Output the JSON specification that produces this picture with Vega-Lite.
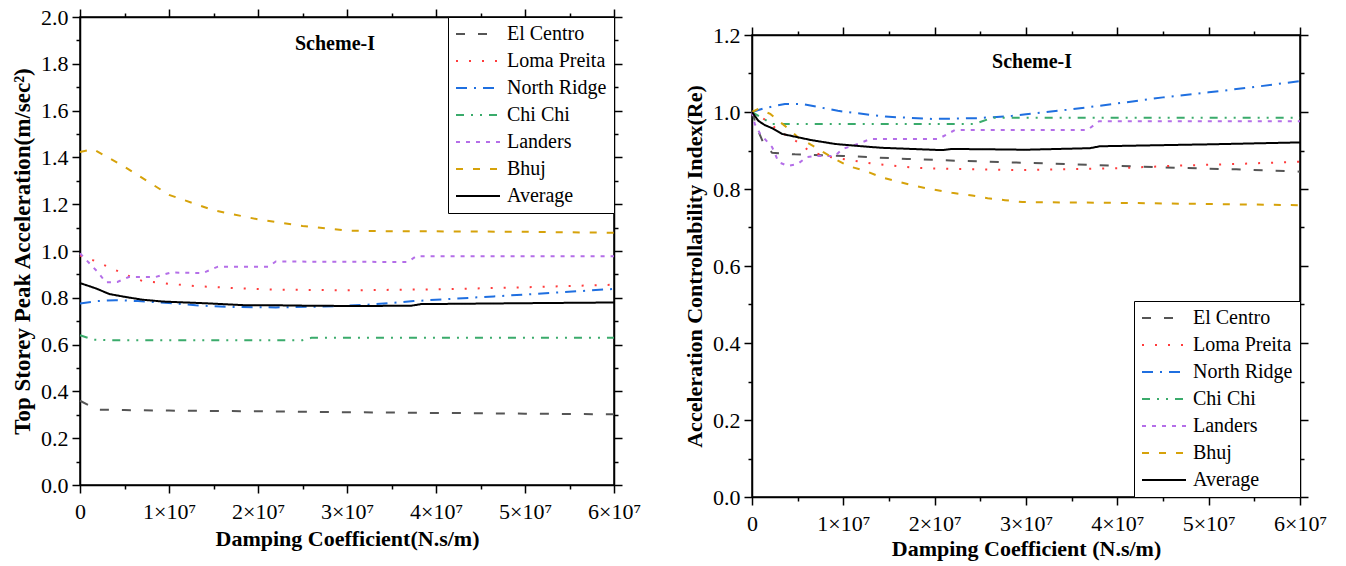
{
  "$schema": "https://vega.github.io/schema/vega-lite/v6.json",
  "background": "white",
  "padding": {"left": 10, "top": 5, "right": 5, "bottom": 5},
  "config": {
    "font": "Liberation Serif",
    "view": {"stroke": "black", "strokeWidth": 1.5},
    "axis": {"grid": false, "domainColor": "black", "domainWidth": 1.5, "tickColor": "black", "tickWidth": 1.5, "labelFont": "Liberation Serif", "labelFontSize": 22, "labelColor": "black", "titleFont": "Liberation Serif", "titleFontWeight": "bold", "titleColor": "black", "labelFlush": false, "labelOverlap": false},
    "legend": {"title": null, "strokeColor": "black", "fillColor": "white", "padding": 7, "symbolType": "stroke", "symbolSize": 1936, "symbolStrokeWidth": 2, "labelFontSize": 20, "labelFont": "Liberation Serif", "labelColor": "black", "clipHeight": 20, "rowPadding": 7, "labelOffset": 6, "offset": 0}
  },
  "datasets": {
    "accel": [
      {"s": "El Centro", "c": 0, "v": 0.36}, {"s": "El Centro", "c": 1000000, "v": 0.34}, {"s": "El Centro", "c": 2000000, "v": 0.322}, {"s": "El Centro", "c": 5000000, "v": 0.32}, {"s": "El Centro", "c": 10000000, "v": 0.318}, {"s": "El Centro", "c": 20000000, "v": 0.315}, {"s": "El Centro", "c": 30000000, "v": 0.311}, {"s": "El Centro", "c": 40000000, "v": 0.308}, {"s": "El Centro", "c": 50000000, "v": 0.305}, {"s": "El Centro", "c": 60000000, "v": 0.302},
      {"s": "Loma Preita", "c": 0, "v": 0.98}, {"s": "Loma Preita", "c": 1500000, "v": 0.96}, {"s": "Loma Preita", "c": 3000000, "v": 0.935}, {"s": "Loma Preita", "c": 4200000, "v": 0.915}, {"s": "Loma Preita", "c": 5500000, "v": 0.893}, {"s": "Loma Preita", "c": 7000000, "v": 0.872}, {"s": "Loma Preita", "c": 8500000, "v": 0.866}, {"s": "Loma Preita", "c": 10000000, "v": 0.86}, {"s": "Loma Preita", "c": 13000000, "v": 0.85}, {"s": "Loma Preita", "c": 17000000, "v": 0.842}, {"s": "Loma Preita", "c": 22000000, "v": 0.835}, {"s": "Loma Preita", "c": 30000000, "v": 0.832}, {"s": "Loma Preita", "c": 40000000, "v": 0.836}, {"s": "Loma Preita", "c": 50000000, "v": 0.845}, {"s": "Loma Preita", "c": 60000000, "v": 0.856},
      {"s": "North Ridge", "c": 0, "v": 0.776}, {"s": "North Ridge", "c": 2000000, "v": 0.786}, {"s": "North Ridge", "c": 4000000, "v": 0.79}, {"s": "North Ridge", "c": 6500000, "v": 0.786}, {"s": "North Ridge", "c": 10000000, "v": 0.778}, {"s": "North Ridge", "c": 13000000, "v": 0.768}, {"s": "North Ridge", "c": 16500000, "v": 0.761}, {"s": "North Ridge", "c": 22000000, "v": 0.759}, {"s": "North Ridge", "c": 29000000, "v": 0.764}, {"s": "North Ridge", "c": 33000000, "v": 0.772}, {"s": "North Ridge", "c": 37500000, "v": 0.786}, {"s": "North Ridge", "c": 42000000, "v": 0.796}, {"s": "North Ridge", "c": 46500000, "v": 0.806}, {"s": "North Ridge", "c": 53000000, "v": 0.821}, {"s": "North Ridge", "c": 60000000, "v": 0.838},
      {"s": "Chi Chi", "c": 0, "v": 0.64}, {"s": "Chi Chi", "c": 1500000, "v": 0.621}, {"s": "Chi Chi", "c": 3000000, "v": 0.619}, {"s": "Chi Chi", "c": 25000000, "v": 0.619}, {"s": "Chi Chi", "c": 26000000, "v": 0.629}, {"s": "Chi Chi", "c": 60000000, "v": 0.629},
      {"s": "Landers", "c": 0, "v": 0.99}, {"s": "Landers", "c": 1000000, "v": 0.95}, {"s": "Landers", "c": 2000000, "v": 0.91}, {"s": "Landers", "c": 2900000, "v": 0.866}, {"s": "Landers", "c": 4200000, "v": 0.868}, {"s": "Landers", "c": 5500000, "v": 0.889}, {"s": "Landers", "c": 8500000, "v": 0.889}, {"s": "Landers", "c": 10200000, "v": 0.908}, {"s": "Landers", "c": 13800000, "v": 0.906}, {"s": "Landers", "c": 15500000, "v": 0.933}, {"s": "Landers", "c": 21200000, "v": 0.933}, {"s": "Landers", "c": 22000000, "v": 0.955}, {"s": "Landers", "c": 36800000, "v": 0.953}, {"s": "Landers", "c": 37800000, "v": 0.978}, {"s": "Landers", "c": 60000000, "v": 0.978},
      {"s": "Bhuj", "c": 0, "v": 1.423}, {"s": "Bhuj", "c": 1500000, "v": 1.435}, {"s": "Bhuj", "c": 5000000, "v": 1.36}, {"s": "Bhuj", "c": 10000000, "v": 1.24}, {"s": "Bhuj", "c": 15000000, "v": 1.174}, {"s": "Bhuj", "c": 20000000, "v": 1.135}, {"s": "Bhuj", "c": 25000000, "v": 1.107}, {"s": "Bhuj", "c": 30000000, "v": 1.087}, {"s": "Bhuj", "c": 35000000, "v": 1.084}, {"s": "Bhuj", "c": 40000000, "v": 1.084}, {"s": "Bhuj", "c": 50000000, "v": 1.082}, {"s": "Bhuj", "c": 60000000, "v": 1.078},
      {"s": "Average", "c": 0, "v": 0.863}, {"s": "Average", "c": 1800000, "v": 0.84}, {"s": "Average", "c": 3300000, "v": 0.816}, {"s": "Average", "c": 5200000, "v": 0.803}, {"s": "Average", "c": 7000000, "v": 0.792}, {"s": "Average", "c": 9300000, "v": 0.784}, {"s": "Average", "c": 14500000, "v": 0.776}, {"s": "Average", "c": 18700000, "v": 0.768}, {"s": "Average", "c": 22000000, "v": 0.768}, {"s": "Average", "c": 26000000, "v": 0.766}, {"s": "Average", "c": 31000000, "v": 0.765}, {"s": "Average", "c": 37200000, "v": 0.766}, {"s": "Average", "c": 38300000, "v": 0.773}, {"s": "Average", "c": 50000000, "v": 0.777}, {"s": "Average", "c": 60000000, "v": 0.78}
    ],
    "ci": [
      {"s": "El Centro", "c": 0, "v": 1.0}, {"s": "El Centro", "c": 700000, "v": 0.95}, {"s": "El Centro", "c": 1200000, "v": 0.922}, {"s": "El Centro", "c": 2200000, "v": 0.894}, {"s": "El Centro", "c": 4700000, "v": 0.89}, {"s": "El Centro", "c": 10000000, "v": 0.886}, {"s": "El Centro", "c": 17000000, "v": 0.878}, {"s": "El Centro", "c": 23000000, "v": 0.873}, {"s": "El Centro", "c": 30000000, "v": 0.868}, {"s": "El Centro", "c": 39000000, "v": 0.861}, {"s": "El Centro", "c": 46500000, "v": 0.855}, {"s": "El Centro", "c": 53000000, "v": 0.851}, {"s": "El Centro", "c": 60000000, "v": 0.845},
      {"s": "Loma Preita", "c": 0, "v": 1.0}, {"s": "Loma Preita", "c": 1200000, "v": 0.984}, {"s": "Loma Preita", "c": 2700000, "v": 0.956}, {"s": "Loma Preita", "c": 4000000, "v": 0.935}, {"s": "Loma Preita", "c": 5000000, "v": 0.922}, {"s": "Loma Preita", "c": 6200000, "v": 0.9}, {"s": "Loma Preita", "c": 8000000, "v": 0.885}, {"s": "Loma Preita", "c": 10500000, "v": 0.876}, {"s": "Loma Preita", "c": 13500000, "v": 0.865}, {"s": "Loma Preita", "c": 17800000, "v": 0.855}, {"s": "Loma Preita", "c": 22000000, "v": 0.852}, {"s": "Loma Preita", "c": 29700000, "v": 0.849}, {"s": "Loma Preita", "c": 40000000, "v": 0.854}, {"s": "Loma Preita", "c": 47000000, "v": 0.861}, {"s": "Loma Preita", "c": 53000000, "v": 0.865}, {"s": "Loma Preita", "c": 60000000, "v": 0.871},
      {"s": "North Ridge", "c": 0, "v": 1.0}, {"s": "North Ridge", "c": 1400000, "v": 1.01}, {"s": "North Ridge", "c": 3600000, "v": 1.021}, {"s": "North Ridge", "c": 5500000, "v": 1.021}, {"s": "North Ridge", "c": 9400000, "v": 1.003}, {"s": "North Ridge", "c": 14600000, "v": 0.988}, {"s": "North Ridge", "c": 19700000, "v": 0.982}, {"s": "North Ridge", "c": 24700000, "v": 0.984}, {"s": "North Ridge", "c": 28500000, "v": 0.99}, {"s": "North Ridge", "c": 30000000, "v": 0.994}, {"s": "North Ridge", "c": 35000000, "v": 1.007}, {"s": "North Ridge", "c": 40600000, "v": 1.024}, {"s": "North Ridge", "c": 45000000, "v": 1.038}, {"s": "North Ridge", "c": 50000000, "v": 1.051}, {"s": "North Ridge", "c": 55000000, "v": 1.065}, {"s": "North Ridge", "c": 60000000, "v": 1.08},
      {"s": "Chi Chi", "c": 0, "v": 1.0}, {"s": "Chi Chi", "c": 2200000, "v": 0.969}, {"s": "Chi Chi", "c": 24400000, "v": 0.969}, {"s": "Chi Chi", "c": 26300000, "v": 0.985}, {"s": "Chi Chi", "c": 60000000, "v": 0.985},
      {"s": "Landers", "c": 0, "v": 1.0}, {"s": "Landers", "c": 300000, "v": 0.969}, {"s": "Landers", "c": 900000, "v": 0.943}, {"s": "Landers", "c": 2200000, "v": 0.909}, {"s": "Landers", "c": 2900000, "v": 0.87}, {"s": "Landers", "c": 3900000, "v": 0.86}, {"s": "Landers", "c": 5000000, "v": 0.865}, {"s": "Landers", "c": 6000000, "v": 0.883}, {"s": "Landers", "c": 6900000, "v": 0.886}, {"s": "Landers", "c": 9100000, "v": 0.886}, {"s": "Landers", "c": 9900000, "v": 0.904}, {"s": "Landers", "c": 11000000, "v": 0.912}, {"s": "Landers", "c": 13000000, "v": 0.93}, {"s": "Landers", "c": 20400000, "v": 0.93}, {"s": "Landers", "c": 22200000, "v": 0.953}, {"s": "Landers", "c": 36700000, "v": 0.953}, {"s": "Landers", "c": 38000000, "v": 0.976}, {"s": "Landers", "c": 60000000, "v": 0.976},
      {"s": "Bhuj", "c": 0, "v": 1.0}, {"s": "Bhuj", "c": 700000, "v": 1.008}, {"s": "Bhuj", "c": 2000000, "v": 0.995}, {"s": "Bhuj", "c": 3600000, "v": 0.964}, {"s": "Bhuj", "c": 5000000, "v": 0.935}, {"s": "Bhuj", "c": 6900000, "v": 0.909}, {"s": "Bhuj", "c": 8700000, "v": 0.883}, {"s": "Bhuj", "c": 10500000, "v": 0.86}, {"s": "Bhuj", "c": 12400000, "v": 0.847}, {"s": "Bhuj", "c": 14200000, "v": 0.83}, {"s": "Bhuj", "c": 16000000, "v": 0.819}, {"s": "Bhuj", "c": 17800000, "v": 0.808}, {"s": "Bhuj", "c": 20000000, "v": 0.798}, {"s": "Bhuj", "c": 21900000, "v": 0.79}, {"s": "Bhuj", "c": 24100000, "v": 0.783}, {"s": "Bhuj", "c": 25800000, "v": 0.776}, {"s": "Bhuj", "c": 27700000, "v": 0.771}, {"s": "Bhuj", "c": 29600000, "v": 0.766}, {"s": "Bhuj", "c": 40000000, "v": 0.764}, {"s": "Bhuj", "c": 50000000, "v": 0.761}, {"s": "Bhuj", "c": 60000000, "v": 0.758},
      {"s": "Average", "c": 0, "v": 1.0}, {"s": "Average", "c": 700000, "v": 0.977}, {"s": "Average", "c": 1400000, "v": 0.966}, {"s": "Average", "c": 2200000, "v": 0.958}, {"s": "Average", "c": 3300000, "v": 0.943}, {"s": "Average", "c": 4700000, "v": 0.936}, {"s": "Average", "c": 6500000, "v": 0.927}, {"s": "Average", "c": 9100000, "v": 0.917}, {"s": "Average", "c": 12000000, "v": 0.911}, {"s": "Average", "c": 14200000, "v": 0.907}, {"s": "Average", "c": 17500000, "v": 0.904}, {"s": "Average", "c": 20800000, "v": 0.901}, {"s": "Average", "c": 21900000, "v": 0.904}, {"s": "Average", "c": 26300000, "v": 0.903}, {"s": "Average", "c": 30000000, "v": 0.902}, {"s": "Average", "c": 37000000, "v": 0.906}, {"s": "Average", "c": 38100000, "v": 0.911}, {"s": "Average", "c": 50000000, "v": 0.916}, {"s": "Average", "c": 60000000, "v": 0.921}
    ],
    "lab1": [{"c": 28650000, "v": 1.885, "t": "Scheme-I"}],
    "lab2": [{"c": 30660000, "v": 1.13, "t": "Scheme-I"}],
    "spacer": [{"a": 0}]
  },
  "spacing": 40,
  "resolve": {"scale": {"color": "independent", "strokeDash": "independent"}, "legend": {"color": "independent", "strokeDash": "independent"}},
  "hconcat": [
    {
      "width": 534,
      "height": 468,
      "resolve": {"axis": {"x": "independent", "y": "independent"}},
      "layer": [
        {
          "data": {"name": "accel"},
          "mark": {"type": "line", "strokeWidth": 2},
          "encoding": {
            "x": {"field": "c", "type": "quantitative", "scale": {"domain": [0, 60000000], "nice": false, "zero": false},
              "axis": {"orient": "bottom", "values": [0, 5000000, 10000000, 15000000, 20000000, 25000000, 30000000, 35000000, 40000000, 45000000, 50000000, 55000000, 60000000],
                "labelExpr": "datum.value % 10000000 == 0 ? (datum.value == 0 ? '0' : (datum.value / 10000000) + '×10⁷') : ''",
                "tickSize": {"condition": {"test": "datum.value % 10000000 != 0", "value": 4}, "value": 8},
                "labelPadding": 8, "title": "Damping Coefficient(N.s/m)", "titleFontSize": 22, "titlePadding": 6}},
            "y": {"field": "v", "type": "quantitative", "scale": {"domain": [0, 2], "nice": false},
              "axis": {"orient": "left", "values": [0, 0.1, 0.2, 0.3, 0.4, 0.5, 0.6, 0.7, 0.8, 0.9, 1.0, 1.1, 1.2, 1.3, 1.4, 1.5, 1.6, 1.7, 1.8, 1.9, 2.0],
                "labelExpr": "round(datum.value * 10) % 2 == 0 ? format(datum.value, '.1f') : ''",
                "tickSize": {"condition": {"test": "round(datum.value * 10) % 2 != 0", "value": 4}, "value": 8},
                "labelPadding": 4, "title": "Top Storey Peak Acceleration(m/sec²)", "titleFontSize": 23, "titlePadding": 6}},
            "color": {"field": "s", "type": "nominal",
              "scale": {"domain": ["El Centro", "Loma Preita", "North Ridge", "Chi Chi", "Landers", "Bhuj", "Average"], "range": ["#555555", "#ff3b3b", "#1f6fe0", "#3aab6b", "#b46ee8", "#d6a20a", "#000000"]},
              "legend": {"orient": "top-right", "title": null}},
            "strokeDash": {"field": "s", "type": "nominal",
              "scale": {"domain": ["El Centro", "Loma Preita", "North Ridge", "Chi Chi", "Landers", "Bhuj", "Average"], "range": [[9, 13], [2, 11], [11, 7, 2, 7], [8, 7, 2, 7, 2, 7], [4, 6], [7, 10], [1, 0]]},
              "legend": {"orient": "top-right", "title": null}}
          }
        },
        {
          "data": {"name": "lab1"},
          "mark": {"type": "text", "font": "Liberation Serif", "fontWeight": "bold", "fontSize": 20, "color": "black"},
          "encoding": {
            "x": {"field": "c", "type": "quantitative", "scale": {"domain": [0, 60000000], "nice": false, "zero": false},
              "axis": {"orient": "top", "values": [0, 5000000, 10000000, 15000000, 20000000, 25000000, 30000000, 35000000, 40000000, 45000000, 50000000, 55000000, 60000000], "labels": false, "title": null,
                "tickSize": {"condition": {"test": "datum.value % 10000000 != 0", "value": 4}, "value": 8}}},
            "y": {"field": "v", "type": "quantitative", "scale": {"domain": [0, 2], "nice": false},
              "axis": {"orient": "right", "values": [0, 0.1, 0.2, 0.3, 0.4, 0.5, 0.6, 0.7, 0.8, 0.9, 1.0, 1.1, 1.2, 1.3, 1.4, 1.5, 1.6, 1.7, 1.8, 1.9, 2.0], "labels": false, "title": null,
                "tickSize": {"condition": {"test": "round(datum.value * 10) % 2 != 0", "value": 4}, "value": 8}}},
            "text": {"field": "t"}
          }
        }
      ]
    },
    {
      "spacing": 2,
      "resolve": {"scale": {"color": "independent", "strokeDash": "independent"}, "legend": {"color": "independent", "strokeDash": "independent"}},
      "vconcat": [
        {
          "width": 548,
          "height": 1,
          "view": {"stroke": null},
          "data": {"name": "spacer"},
          "mark": {"type": "point", "opacity": 0}
        },
        {
          "width": 548,
          "height": 462,
          "resolve": {"axis": {"x": "independent", "y": "independent"}},
          "layer": [
            {
              "data": {"name": "ci"},
              "mark": {"type": "line", "strokeWidth": 2},
              "encoding": {
                "x": {"field": "c", "type": "quantitative", "scale": {"domain": [0, 60000000], "nice": false, "zero": false},
                  "axis": {"orient": "bottom", "values": [0, 5000000, 10000000, 15000000, 20000000, 25000000, 30000000, 35000000, 40000000, 45000000, 50000000, 55000000, 60000000],
                    "labelExpr": "datum.value % 10000000 == 0 ? (datum.value == 0 ? '0' : (datum.value / 10000000) + '×10⁷') : ''",
                    "tickSize": {"condition": {"test": "datum.value % 10000000 != 0", "value": 4}, "value": 8},
                    "labelPadding": 8, "title": "Damping Coefficient (N.s/m)", "titleFontSize": 22, "titlePadding": 4}},
                "y": {"field": "v", "type": "quantitative", "scale": {"domain": [0, 1.2], "nice": false},
                  "axis": {"orient": "left", "values": [0, 0.1, 0.2, 0.3, 0.4, 0.5, 0.6, 0.7, 0.8, 0.9, 1.0, 1.1, 1.2],
                    "labelExpr": "round(datum.value * 10) % 2 == 0 ? format(datum.value, '.1f') : ''",
                    "tickSize": {"condition": {"test": "round(datum.value * 10) % 2 != 0", "value": 4}, "value": 8},
                    "labelPadding": 4, "title": "Acceleration Controllability Index(Re)", "titleFontSize": 22, "titlePadding": 6}},
                "color": {"field": "s", "type": "nominal",
                  "scale": {"domain": ["El Centro", "Loma Preita", "North Ridge", "Chi Chi", "Landers", "Bhuj", "Average"], "range": ["#555555", "#ff3b3b", "#1f6fe0", "#3aab6b", "#b46ee8", "#d6a20a", "#000000"]},
                  "legend": {"orient": "bottom-right", "title": null}},
                "strokeDash": {"field": "s", "type": "nominal",
                  "scale": {"domain": ["El Centro", "Loma Preita", "North Ridge", "Chi Chi", "Landers", "Bhuj", "Average"], "range": [[9, 13], [2, 11], [11, 7, 2, 7], [8, 7, 2, 7, 2, 7], [4, 6], [7, 10], [1, 0]]},
                  "legend": {"orient": "bottom-right", "title": null}}
              }
            },
            {
              "data": {"name": "lab2"},
              "mark": {"type": "text", "font": "Liberation Serif", "fontWeight": "bold", "fontSize": 20, "color": "black"},
              "encoding": {
                "x": {"field": "c", "type": "quantitative", "scale": {"domain": [0, 60000000], "nice": false, "zero": false},
                  "axis": {"orient": "top", "values": [0, 5000000, 10000000, 15000000, 20000000, 25000000, 30000000, 35000000, 40000000, 45000000, 50000000, 55000000, 60000000], "labels": false, "title": null,
                    "tickSize": {"condition": {"test": "datum.value % 10000000 != 0", "value": 4}, "value": 8}}},
                "y": {"field": "v", "type": "quantitative", "scale": {"domain": [0, 1.2], "nice": false},
                  "axis": {"orient": "right", "values": [0, 0.1, 0.2, 0.3, 0.4, 0.5, 0.6, 0.7, 0.8, 0.9, 1.0, 1.1, 1.2], "labels": false, "title": null,
                    "tickSize": {"condition": {"test": "round(datum.value * 10) % 2 != 0", "value": 4}, "value": 8}}},
                "text": {"field": "t"}
              }
            }
          ]
        }
      ]
    }
  ]
}
